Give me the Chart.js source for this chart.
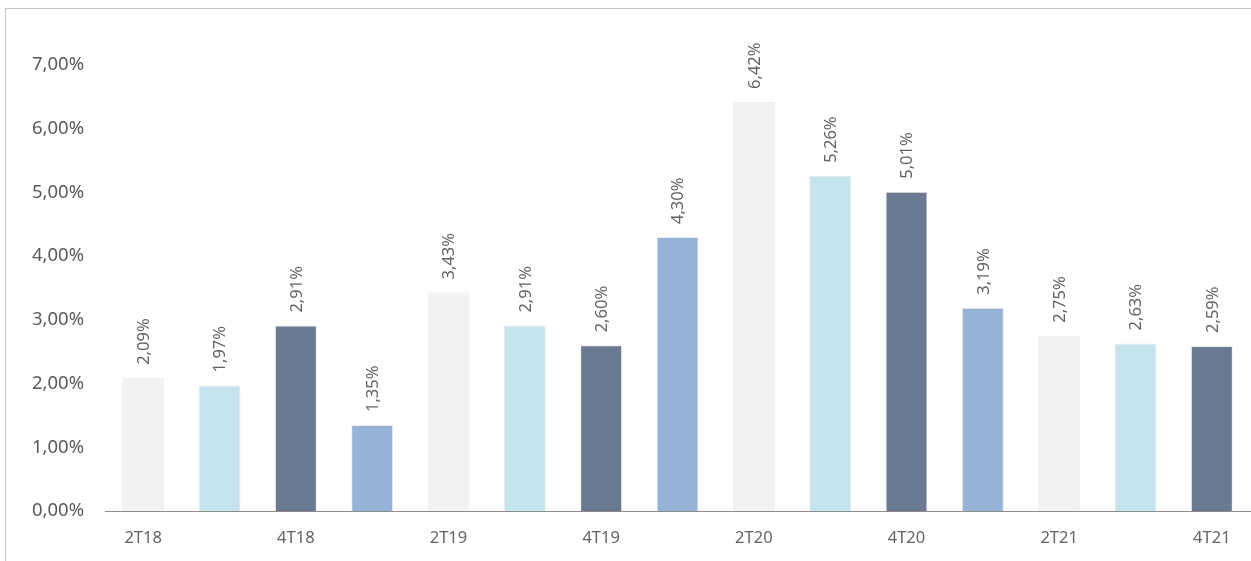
<!DOCTYPE html>
<html>
<head>
<meta charset="utf-8">
<script src="https://cdn.jsdelivr.net/npm/chart.js@4"></script>
<style>
  body { margin: 0; background: #fff; }
  #frame {
    position: absolute; left: 5px; top: 8px;
    width: 1260px; height: 560px;
    border-left: 1px solid #c6c6c6; border-top: 1px solid #c6c6c6;
  }
  #wrap { position: absolute; left: 0; top: 0; width: 1245px; height: 552px; }
</style>
</head>
<body>
<div id="frame"><div id="wrap"><canvas id="chart"></canvas></div></div>
<script>
// quarterly rate, 2T18 .. 4T21
const quarters = ['2T18', '3T18', '4T18', '1T19', '2T19', '3T19', '4T19', '1T20',
                  '2T20', '3T20', '4T20', '1T21', '2T21', '3T21', '4T21'];
const rates = [2.09, 1.97, 2.91, 1.35, 3.43, 2.91, 2.60, 4.30,
               6.42, 5.26, 5.01, 3.19, 2.75, 2.63, 2.59];
const palette = ['#f2f2f2', '#c5e3ed', '#6a7a91', '#95b3d7'];
const yTicks = [0, 1, 2, 3, 4, 5, 6, 7];

const pct = v => v.toFixed(2).replace('.', ',') + '%';

// vertical value labels above each bar
const barLabels = {
  id: 'barLabels',
  afterDatasetsDraw(chart) {
    const ctx = chart.ctx;
    const meta = chart.getDatasetMeta(0);
    ctx.save();
    ctx.fillStyle = '#636363';
    ctx.font = '16.5px "Noto Sans"';
    ctx.textAlign = 'left';
    ctx.textBaseline = 'middle';
    meta.data.forEach((bar, i) => {
      ctx.save();
      ctx.translate(bar.x + 1, bar.y - 13);
      ctx.rotate(-Math.PI / 2);
      ctx.fillText(pct(rates[i]), 0, 0);
      ctx.restore();
    });
    ctx.restore();
  }
};

new Chart(document.getElementById('chart'), {
  type: 'bar',
  data: {
    labels: quarters,
    datasets: [{
      data: rates,
      backgroundColor: rates.map((v, i) => palette[i % 4]),
      borderColor: '#ececec',
      borderWidth: 1,
      categoryPercentage: 1,
      barPercentage: 0.55
    }]
  },
  options: {
    responsive: true,
    maintainAspectRatio: false,
    animation: false,
    layout: { padding: { top: 56, right: 1, left: 0, bottom: 0 } },
    plugins: { legend: { display: false }, tooltip: { enabled: false } },
    scales: {
      x: {
        grid: { display: false, drawTicks: false },
        border: { display: true, color: '#8c8c8c', width: 1 },
        ticks: {
          autoSkip: false,
          maxRotation: 0,
          padding: 17,
          color: '#636363',
          font: { family: 'Noto Sans', size: 16.5 },
          callback: (v, i) => (i % 2 === 0 ? quarters[i] : '')
        },
        afterFit: s => { s.height = 50; }
      },
      y: {
        min: 0,
        max: 7,
        grid: { display: false, drawTicks: false },
        border: { display: false },
        afterBuildTicks: s => { s.ticks = yTicks.map(v => ({ value: v })); },
        ticks: {
          padding: 21,
          color: '#595959',
          font: { family: 'Noto Sans', size: 18.5 },
          callback: v => pct(v)
        },
        afterFit: s => { s.width = 99; }
      }
    }
  },
  plugins: [barLabels]
});
</script>
</body>
</html>
